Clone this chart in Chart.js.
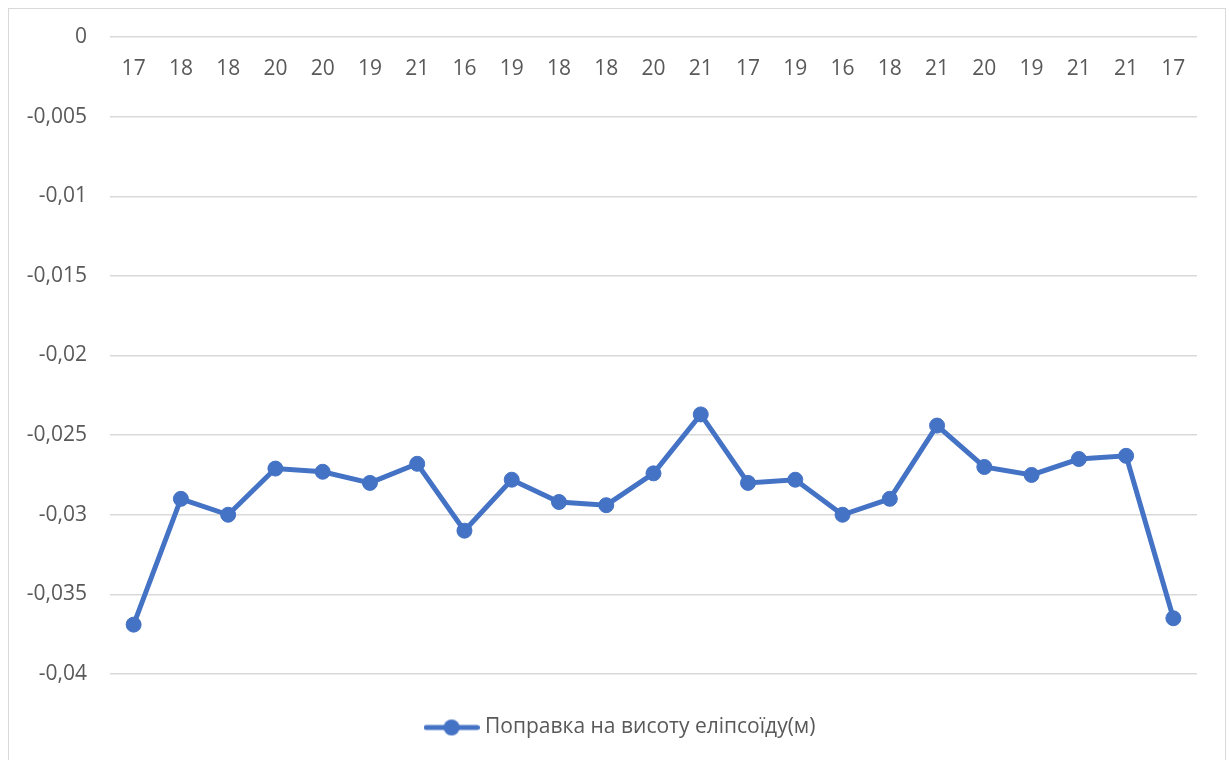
<!DOCTYPE html>
<html>
<head>
<meta charset="utf-8">
<script src="https://cdn.jsdelivr.net/npm/chart.js@4/dist/chart.umd.min.js"></script>
<style>
  html, body { margin: 0; padding: 0; background: #fff; overflow: hidden; }
  #wrap { position: relative; width: 1229px; height: 760px; }
  #wrap canvas { position: absolute; left: 0; top: 0; }
  #frame {
    position: absolute; left: 8px; top: 8px; width: 1218px; height: 800px;
    border: 1px solid #d9d9d9; box-sizing: border-box; pointer-events: none;
  }
</style>
</head>
<body>
<div id="wrap">
  <canvas id="chart" width="1229" height="760"></canvas>
  <div id="frame"></div>
</div>
<script>
// Point labels along the category axis
const categories = ['17', '18', '18', '20', '20', '19', '21', '16', '19', '18', '18', '20',
                    '21', '17', '19', '16', '18', '21', '20', '19', '21', '21', '17'];

// Ellipsoid height correction, metres
const correction = [-0.0369, -0.0290, -0.0300, -0.0271, -0.0273, -0.0280, -0.0268, -0.0310,
                    -0.0278, -0.0292, -0.0294, -0.0274, -0.0237, -0.0280, -0.0278, -0.0300,
                    -0.0290, -0.0244, -0.0270, -0.0275, -0.0265, -0.0263, -0.0365];

const seriesName = 'Поправка на висоту еліпсоїду(м)';

// Value axis range and step
const yMin = -0.04;
const yMax = 0;
const yStep = 0.005;

const BLUE = '#4472C4';
const TEXT = '#595959';
const GRID = '#d9d9d9';
const FONT = { family: '"Open Sans", "Noto Sans", sans-serif', size: 21 };

// Legend marker: a line segment with a dot in the middle
const marker = document.createElement('canvas');
marker.width = 56;
marker.height = 18;
(function () {
  const c = marker.getContext('2d');
  c.strokeStyle = BLUE;
  c.lineWidth = 5;
  c.lineCap = 'round';
  c.beginPath();
  c.moveTo(2.5, 9);
  c.lineTo(53.5, 9);
  c.stroke();
  c.fillStyle = BLUE;
  c.beginPath();
  c.arc(28, 9, 8, 0, Math.PI * 2);
  c.fill();
})();

const commaNumber = v => Number(v.toFixed(3)).toString().replace('.', ',');

new Chart(document.getElementById('chart'), {
  type: 'line',
  data: {
    labels: categories,
    datasets: [{
      label: seriesName,
      data: correction,
      borderColor: BLUE,
      backgroundColor: BLUE,
      borderWidth: 5,
      pointRadius: 7.5,
      pointBorderWidth: 1,
      pointBackgroundColor: BLUE,
      pointBorderColor: BLUE,
      tension: 0,
      fill: false
    }]
  },
  options: {
    responsive: false,
    animation: false,
    layout: { padding: { top: 37, left: 15, right: 0, bottom: 12 } },
    scales: {
      x: {
        type: 'category',
        position: { y: 0 },
        offset: true,
        grid: { display: false, drawTicks: false },
        border: { display: false },
        ticks: {
          color: TEXT,
          font: FONT,
          padding: 19,
          autoSkip: false,
          maxRotation: 0,
          minRotation: 0
        }
      },
      y: {
        min: yMin,
        max: yMax,
        position: 'left',
        grid: { color: GRID, lineWidth: 1.5, drawTicks: false },
        border: { display: false },
        ticks: {
          stepSize: yStep,
          color: TEXT,
          font: FONT,
          padding: 23,
          callback: v => commaNumber(v)
        },
        afterFit(scale) { scale.width = 95; }
      },
      // empty right-hand gutter between the plot and the frame
      gutter: {
        type: 'linear',
        position: 'right',
        display: true,
        grid: { display: false, drawTicks: false },
        border: { display: false },
        ticks: { display: false },
        afterFit(scale) { scale.width = 32; }
      }
    },
    plugins: {
      tooltip: { enabled: false },
      legend: {
        position: 'bottom',
        labels: {
          color: TEXT,
          font: FONT,
          padding: 43,
          usePointStyle: true,
          pointStyleWidth: 46,
          generateLabels(chart) {
            const items = Chart.defaults.plugins.legend.labels.generateLabels(chart);
            return items.map(it => Object.assign(it, { pointStyle: marker, fontColor: TEXT }));
          }
        }
      }
    }
  }
});
</script>
</body>
</html>
